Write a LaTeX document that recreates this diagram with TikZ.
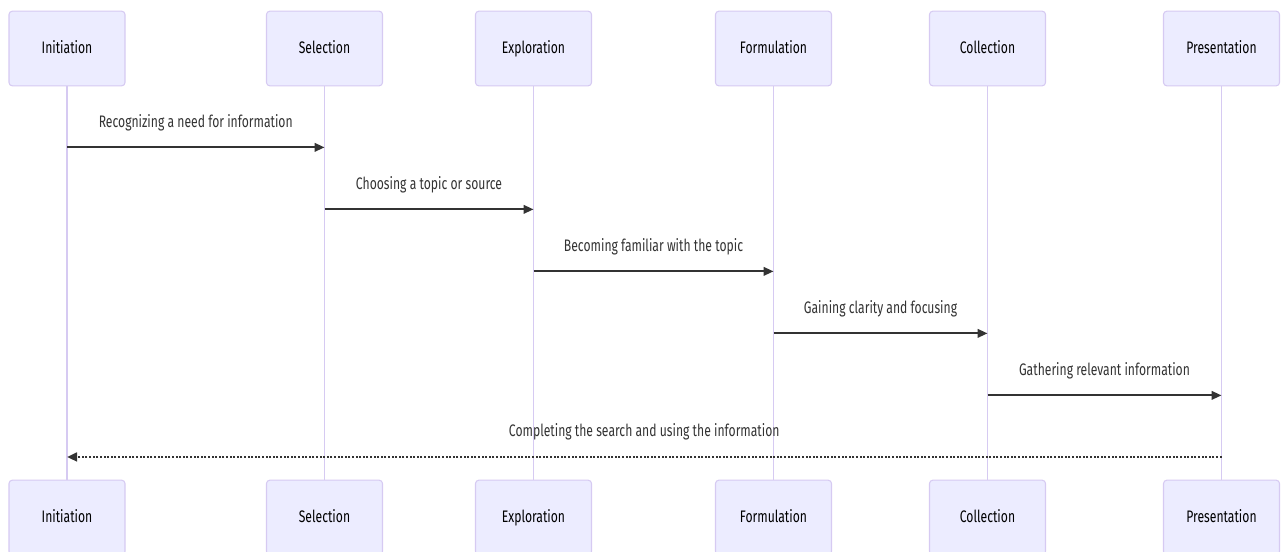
\documentclass[tikz,border=0pt]{standalone}
\usepackage{fontspec}
\setmainfont{Fira Sans}[FakeStretch=0.73]
\usepackage{tikz}
\usepackage{xcolor}
\usetikzlibrary{positioning, arrows.meta}
\definecolor{actorfill}{RGB}{236,236,255}
\definecolor{actorline}{RGB}{214,202,242}
\definecolor{msgtext}{RGB}{51,51,51}

\begin{document}
\begin{tikzpicture}[
    x=0.75pt, y=-0.75pt,
    actor/.style={rectangle, draw=actorline, fill=actorfill, line width=0.8pt, rounded corners=2.5pt, minimum width=87pt, minimum height=56pt, align=center, font=\fontsize{12.5}{14}\selectfont, text height=9pt, text depth=1pt, text=black},
    life/.style={draw=actorline, line width=1.3pt},
    msg/.style={-{Triangle[length=7.5pt,width=6.5pt]}, draw=msgtext, line width=1.4pt},
    reply/.style={-{Triangle[length=7.5pt,width=6.5pt]}, draw=msgtext, line width=1.8pt, dash pattern=on 1.5pt off 1.2pt},
    label/.style={font=\fontsize{12.5}{14}\selectfont, text=msgtext, text height=9pt, text depth=2.5pt, above=8.5pt}
]
\useasboundingbox (0,0) rectangle (1282,551);

% ========== ACTORES (arriba) ==========
\node[actor] (iniT) at (67,48.5) {Initiation};
\node[actor] (selT) at (324.5,48.5) {Selection};
\node[actor] (expT) at (533.5,48.5) {Exploration};
\node[actor] (forT) at (773.5,48.5) {Formulation};
\node[actor] (colT) at (987.5,48.5) {Collection};
\node[actor] (preT) at (1221.5,48.5) {Presentation};

% ========== ACTORES (abajo) ==========
\node[actor] (iniB) at (67,517.5) {Initiation};
\node[actor] (selB) at (324.5,517.5) {Selection};
\node[actor] (expB) at (533.5,517.5) {Exploration};
\node[actor] (forB) at (773.5,517.5) {Formulation};
\node[actor] (colB) at (987.5,517.5) {Collection};
\node[actor] (preB) at (1221.5,517.5) {Presentation};

% ========== LINEAS DE VIDA ==========
\draw[life] (iniT.south) -- (iniB.north);
\draw[life] (selT.south) -- (selB.north);
\draw[life] (expT.south) -- (expB.north);
\draw[life] (forT.south) -- (forB.north);
\draw[life] (colT.south) -- (colB.north);
\draw[life] (preT.south) -- (preB.north);

% ========== MENSAJES ==========
\draw[msg] ([yshift=-45.75pt]iniT.south) -- node[label] {Recognizing a need for information} ([yshift=-45.75pt]selT.south);
\draw[msg] ([yshift=-92.25pt]selT.south) -- node[label] {Choosing a topic or source} ([yshift=-92.25pt]expT.south);
\draw[msg] ([yshift=-138.75pt]expT.south) -- node[label] {Becoming familiar with the topic} ([yshift=-138.75pt]forT.south);
\draw[msg] ([yshift=-185.25pt]forT.south) -- node[label] {Gaining clarity and focusing} ([yshift=-185.25pt]colT.south);
\draw[msg] ([yshift=-231.75pt]colT.south) -- node[label] {Gathering relevant information} ([yshift=-231.75pt]preT.south);
\draw[reply] ([yshift=17pt]preB.north) -- node[label] {Completing the search and using the information} ([yshift=17pt]iniB.north);

\end{tikzpicture}
\end{document}
